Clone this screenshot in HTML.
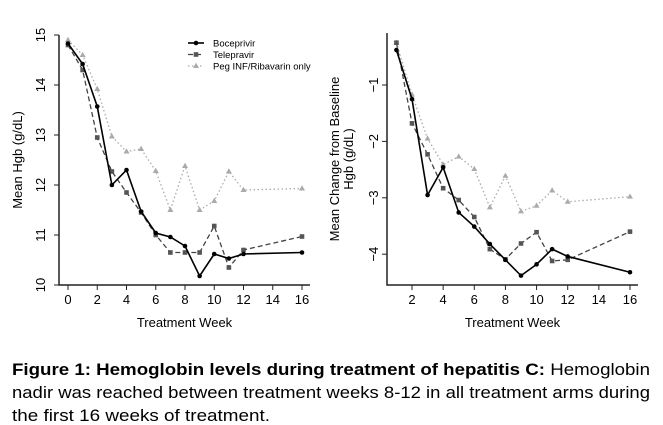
<!DOCTYPE html>
<html><head><meta charset="utf-8"><style>
body{margin:0;background:#fff;width:663px;height:425px;overflow:hidden}
svg{display:block;font-family:"Liberation Sans",Arial,sans-serif}
</style></head><body>
<svg id="fig" width="663" height="425" viewBox="0 0 663 425">
<g id="left"></g>
<g id="right"></g>
<g font-size="17" fill="#000">
<text x="12" y="375" textLength="638" lengthAdjust="spacingAndGlyphs"><tspan font-weight="bold">Figure 1: Hemoglobin levels during treatment of hepatitis C:</tspan> Hemoglobin</text>
<text x="12" y="398" textLength="638" lengthAdjust="spacingAndGlyphs">nadir was reached between treatment weeks 8-12 in all treatment arms during</text>
<text x="12" y="421" textLength="258" lengthAdjust="spacingAndGlyphs">the first 16 weeks of treatment.</text>
</g>
</svg>
<script>
const weeksL = [0,1,2,3,4,5,6,7,8,9,10,11,12,16];
const bocL = [14.83,14.42,13.57,12.0,12.3,11.47,11.04,10.96,10.78,10.18,10.62,10.53,10.62,10.65];
const telL = [14.8,14.3,12.95,12.27,11.85,11.45,11.0,10.65,10.65,10.65,11.18,10.35,10.7,10.97];
const pegL = [14.9,14.6,13.92,12.97,12.67,12.72,12.28,11.5,12.38,11.5,11.68,12.27,11.9,11.93];
const xTicksL = [0,2,4,6,8,10,12,14,16];
const yTicksL = [10,11,12,13,14,15];
const weeksR = [1,2,3,4,5,6,7,8,9,10,11,12,16];
const bocR = [-0.38,-1.25,-2.95,-2.46,-3.26,-3.51,-3.82,-4.1,-4.38,-4.18,-3.91,-4.04,-4.32];
const telR = [-0.25,-1.68,-2.23,-2.83,-3.04,-3.34,-3.91,-4.09,-3.81,-3.61,-4.12,-4.1,-3.6];
const pegR = [-0.25,-1.17,-1.95,-2.41,-2.27,-2.49,-3.17,-2.61,-3.24,-3.14,-2.87,-3.07,-2.98];
const xTicksR = [2,4,6,8,10,12,14,16];
const yTicksR = [-1,-2,-3,-4];
const legendLabels = ["Boceprivir","Telepravir","Peg INF/Ribavarin only"];

const NS="http://www.w3.org/2000/svg";
function mk(p,t,a){const e=document.createElementNS(NS,t);for(const k in a)e.setAttribute(k,a[k]);p.appendChild(e);return e;}
const styles=[
 {stroke:"#000",dash:"",fill:"#000",shape:"circle",w:1.6},
 {stroke:"#444",dash:"5,3",fill:"#555",shape:"square",w:1.3},
 {stroke:"#aaa",dash:"1.5,2.5",fill:"#aaa",shape:"tri",w:1.3}];
function marker(g,x,y,s){
 let e;
 if(s.shape=="circle")e=mk(g,"circle",{cx:x,cy:y,r:2.3,fill:s.fill});
 else if(s.shape=="square")e=mk(g,"rect",{x:x-2.3,y:y-2.3,width:4.6,height:4.6,fill:s.fill});
 else e=mk(g,"polygon",{points:`${x},${y-3.2} ${x+3},${y+2} ${x-3},${y+2}`,fill:s.fill});
 
 
}
function chart(g,o){
 const sx=v=>o.x0+(v-o.xv0)*o.xs, sy=v=>o.y0-(v-o.yv0)*o.ys;
 const ax=mk(g,"path",{d:`M${o.ax},${o.at}V${o.ab}H${o.ar}`,stroke:"#222","stroke-width":1.5,fill:"none"});
 
 
 o.xt.forEach(t=>{const x=sx(t);mk(g,"line",{x1:x,x2:x,y1:o.ab,y2:o.ab+5,stroke:"#222"});
  const tx=mk(g,"text",{x:x,y:o.ab+19,"text-anchor":"middle","font-size":13});tx.textContent=t;
  
  });
 o.yt.forEach(t=>{const y=sy(t),lx=o.ax-o.yo;mk(g,"line",{x1:o.ax,x2:o.ax-5,y1:y,y2:y,stroke:"#222"});
  const tx=mk(g,"text",{x:lx,y:y,"text-anchor":"middle","font-size":13,transform:`rotate(-90 ${lx} ${y})`});tx.textContent=t==Math.abs(t)?t:"\u2212"+Math.abs(t);
  
  });
 const xt=mk(g,"text",{x:(o.ax+o.ar)/2,y:o.ab+42,"text-anchor":"middle","font-size":13});xt.textContent="Treatment Week";
 
 
 o.ytitle.forEach((s,i)=>{const x=o.ytx+i*14,y=(o.at+o.ab)/2;
  const t=mk(g,"text",{x:x,y:y,"text-anchor":"middle","font-size":13,transform:`rotate(-90 ${x} ${y})`});t.textContent=s;
  
  });
 [o.s[2],o.s[1],o.s[0]].forEach((ser,k)=>{const st=styles[2-k];
  const d=ser.map((v,i)=>(i?"L":"M")+sx(o.w[i])+","+sy(v)).join("");
  const p=mk(g,"path",{d:d,fill:"none",stroke:st.stroke,"stroke-width":st.w,"stroke-dasharray":st.dash});
  
  
  ser.forEach((v,i)=>marker(g,sx(o.w[i]),sy(v),st));});
}
chart(document.getElementById("left"),{x0:68,xv0:0,xs:14.625,y0:285,yv0:10,ys:50,ax:59,at:35,ab:285,ar:310,yo:14,
 xt:xTicksL,yt:yTicksL,w:weeksL,s:[bocL,telL,pegL],ytitle:["Mean Hgb (g/dL)"],ytx:22});
chart(document.getElementById("right"),{x0:412,xv0:2,xs:15.57,y0:85,yv0:-1,ys:56.4,ax:387,at:33,ab:285,ar:638,yo:9,
 xt:xTicksR,yt:yTicksR,w:weeksR,s:[bocR,telR,pegR],ytitle:["Mean Change from Baseline","Hgb (g/dL)"],ytx:339});
const lg=mk(document.getElementById("left"),"g",{});


legendLabels.forEach((l,i)=>{const y=43+i*11.5,st=styles[i];
 mk(lg,"line",{x1:188,x2:204,y1:y,y2:y,stroke:st.stroke,"stroke-width":st.w,"stroke-dasharray":st.dash});
 marker(lg,196,y,st);
 const t=mk(lg,"text",{x:213,y:y+3.5,"font-size":9.5});t.textContent=l;
 
 });
</script>
</body></html>
